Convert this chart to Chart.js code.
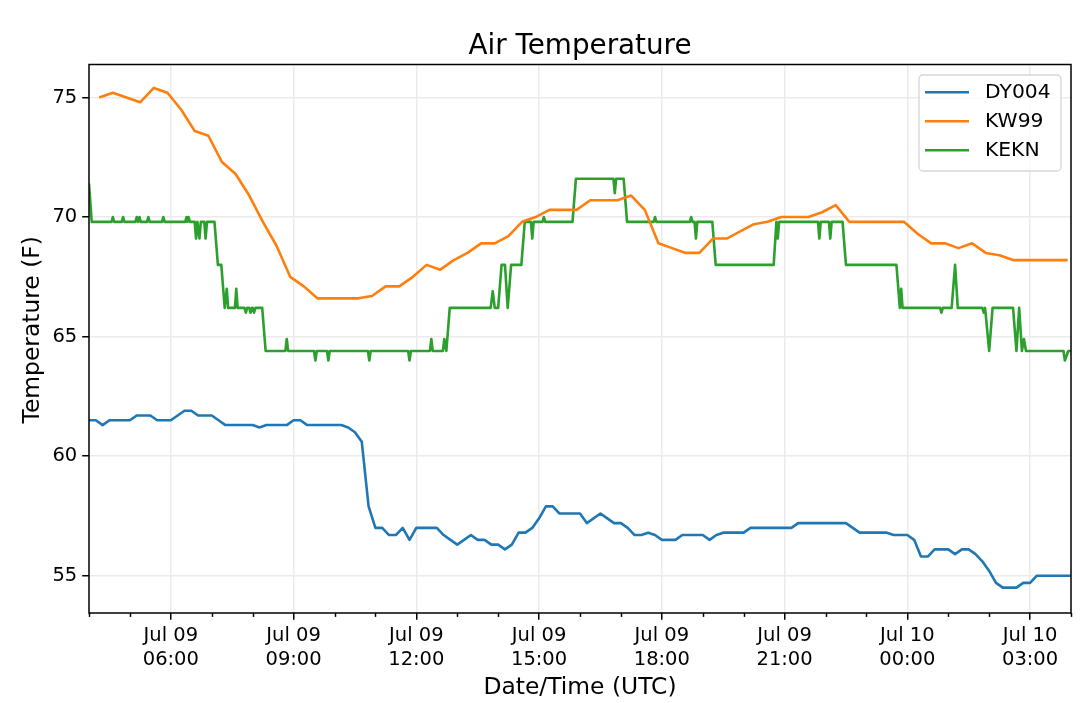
<!DOCTYPE html>
<html>
<head>
<meta charset="utf-8">
<title>Air Temperature</title>
<script src="https://cdn.jsdelivr.net/npm/chart.js@4/dist/chart.umd.min.js"></script>
<style>
  html, body { margin: 0; padding: 0; background: #fff; }
  canvas { display: block; }
</style>
</head>
<body>
<canvas id="tempChart" width="1080" height="703"></canvas>
<script>
// times are "HH:MM" counted from Jul 09 00:00 (24:10 = Jul 10 00:10)
const dy004Times = ['04:00', '04:10', '04:20', '04:30', '05:00', '05:10', '05:30', '05:40', '06:00', '06:10',
    '06:20', '06:30', '06:40', '07:00', '07:10', '07:20', '08:00', '08:10', '08:20', '08:50',
    '09:00', '09:10', '09:20', '10:10', '10:20', '10:30', '10:40', '10:50', '11:00', '11:10',
    '11:20', '11:30', '11:40', '11:50', '12:00', '12:30', '12:40', '12:50', '13:00', '13:10',
    '13:20', '13:30', '13:40', '13:50', '14:00', '14:10', '14:20', '14:30', '14:40', '14:50',
    '15:00', '15:10', '15:20', '15:30', '16:00', '16:10', '16:30', '16:40', '16:50', '17:00',
    '17:10', '17:20', '17:30', '17:40', '17:50', '18:00', '18:20', '18:30', '19:00', '19:10',
    '19:20', '19:30', '20:00', '20:10', '21:10', '21:20', '22:30', '22:40', '22:50', '23:30',
    '23:40', '24:00', '24:10', '24:20', '24:30', '24:40', '25:00', '25:10', '25:20', '25:30',
    '25:40', '25:50', '26:00', '26:10', '26:20', '26:40', '26:50', '27:00', '27:10', '28:00'];
const dy004Values = [61.5, 61.5, 61.3, 61.5, 61.5, 61.7, 61.7, 61.5, 61.5, 61.7,
    61.9, 61.9, 61.7, 61.7, 61.5, 61.3, 61.3, 61.2, 61.3, 61.3,
    61.5, 61.5, 61.3, 61.3, 61.2, 61.0, 60.6, 57.9, 57.0, 57.0,
    56.7, 56.7, 57.0, 56.5, 57.0, 57.0, 56.7, 56.5, 56.3, 56.5,
    56.7, 56.5, 56.5, 56.3, 56.3, 56.1, 56.3, 56.8, 56.8, 57.0,
    57.4, 57.9, 57.9, 57.6, 57.6, 57.2, 57.6, 57.4, 57.2, 57.2,
    57.0, 56.7, 56.7, 56.8, 56.7, 56.5, 56.5, 56.7, 56.7, 56.5,
    56.7, 56.8, 56.8, 57.0, 57.0, 57.2, 57.2, 57.0, 56.8, 56.8,
    56.7, 56.7, 56.5, 55.8, 55.8, 56.1, 56.1, 55.9, 56.1, 56.1,
    55.9, 55.6, 55.2, 54.7, 54.5, 54.5, 54.7, 54.7, 55.0, 55.0];

const kw99Times = ['04:15', '04:35', '04:55', '05:15', '05:35', '05:55', '06:15', '06:35', '06:55', '07:15', '07:35', '07:55',
    '08:15', '08:35', '08:55', '09:15', '09:35', '09:55', '10:15', '10:35', '10:55', '11:15', '11:35', '11:55',
    '12:15', '12:35', '12:55', '13:15', '13:35', '13:55', '14:15', '14:35', '14:55', '15:15', '15:35', '15:55',
    '16:15', '16:35', '16:55', '17:15', '17:35', '17:55', '18:15', '18:35', '18:55', '19:15', '19:35', '19:55',
    '20:15', '20:35', '20:55', '21:15', '21:35', '21:55', '22:15', '22:35', '22:55', '23:15', '23:35', '23:55',
    '24:15', '24:35', '24:55', '25:15', '25:35', '25:55', '26:15', '26:35', '26:55', '27:15', '27:35', '27:55'];
const kw99Values = [75.0, 75.2, 75.0, 74.8, 75.4, 75.2, 74.5, 73.6, 73.4, 72.3, 71.8, 70.9,
    69.8, 68.8, 67.5, 67.1, 66.6, 66.6, 66.6, 66.6, 66.7, 67.1, 67.1, 67.5,
    68.0, 67.8, 68.2, 68.5, 68.9, 68.9, 69.2, 69.8, 70.0, 70.3, 70.3, 70.3,
    70.7, 70.7, 70.7, 70.9, 70.3, 68.9, 68.7, 68.5, 68.5, 69.1, 69.1, 69.4,
    69.7, 69.8, 70.0, 70.0, 70.0, 70.2, 70.5, 69.8, 69.8, 69.8, 69.8, 69.8,
    69.3, 68.9, 68.9, 68.7, 68.9, 68.5, 68.4, 68.2, 68.2, 68.2, 68.2, 68.2];

const keknTimes = ['04:00', '04:04', '04:33', '04:35', '04:37', '04:48', '04:50', '04:52', '05:08', '05:10',
    '05:12', '05:14', '05:16', '05:25', '05:27', '05:29', '05:47', '05:49', '05:51', '06:21',
    '06:23', '06:24', '06:26', '06:28', '06:35', '06:37', '06:39', '06:42', '06:44', '06:49',
    '06:51', '06:53', '07:04', '07:09', '07:14', '07:19', '07:22', '07:24', '07:34', '07:36',
    '07:38', '07:48', '07:50', '07:52', '07:55', '07:57', '07:59', '08:00', '08:02', '08:04',
    '08:14', '08:19', '08:48', '08:50', '08:52', '09:30', '09:32', '09:34', '09:49', '09:51',
    '09:53', '10:49', '10:51', '10:53', '11:48', '11:50', '11:52', '12:20', '12:22', '12:24',
    '12:39', '12:41', '12:44', '12:49', '13:49', '13:52', '13:55', '14:00', '14:05', '14:10',
    '14:14', '14:19', '14:34', '14:39', '14:48', '14:50', '14:52', '15:05', '15:07', '15:09',
    '15:49', '15:54', '16:49', '16:51', '16:53', '17:04', '17:09', '17:48', '17:50', '17:52',
    '18:41', '18:43', '18:45', '18:48', '18:50', '18:52', '19:14', '19:19', '20:44', '20:48',
    '20:50', '20:52', '21:49', '21:51', '21:53', '22:05', '22:07', '22:09', '22:25', '22:30',
    '23:44', '23:49', '23:51', '23:53', '24:48', '24:50', '24:52', '25:05', '25:10', '25:14',
    '25:50', '25:52', '25:54', '26:00', '26:05', '26:35', '26:40', '26:44', '26:48', '26:51',
    '26:54', '27:49', '27:51', '27:56', '28:00'];
const keknValues = [71.4, 69.8, 69.8, 70.0, 69.8, 69.8, 70.0, 69.8, 69.8, 70.0,
    69.8, 70.0, 69.8, 69.8, 70.0, 69.8, 69.8, 70.0, 69.8, 69.8,
    70.0, 69.8, 70.0, 69.8, 69.8, 69.1, 69.8, 69.1, 69.8, 69.8,
    69.1, 69.8, 69.8, 68.0, 68.0, 66.2, 67.0, 66.2, 66.2, 67.0,
    66.2, 66.2, 66.0, 66.2, 66.2, 66.0, 66.2, 66.2, 66.0, 66.2,
    66.2, 64.4, 64.4, 64.9, 64.4, 64.4, 64.0, 64.4, 64.4, 64.0,
    64.4, 64.4, 64.0, 64.4, 64.4, 64.0, 64.4, 64.4, 64.9, 64.4,
    64.4, 64.9, 64.4, 66.2, 66.2, 66.9, 66.2, 66.2, 68.0, 68.0,
    66.2, 68.0, 68.0, 69.8, 69.8, 69.1, 69.8, 69.8, 70.0, 69.8,
    69.8, 71.6, 71.6, 71.0, 71.6, 71.6, 69.8, 69.8, 70.0, 69.8,
    69.8, 70.0, 69.8, 69.8, 69.1, 69.8, 69.8, 68.0, 68.0, 69.8,
    69.1, 69.8, 69.8, 69.1, 69.8, 69.8, 69.1, 69.8, 69.8, 68.0,
    68.0, 66.2, 67.0, 66.2, 66.2, 66.0, 66.2, 66.2, 68.0, 66.2,
    66.2, 66.0, 66.2, 64.4, 66.2, 66.2, 64.4, 66.2, 64.4, 64.9,
    64.4, 64.4, 64.0, 64.4, 64.4];

// axis ticks
const xTickHours = [6, 9, 12, 15, 18, 21, 24, 27];
const xTickLabels = [['Jul 09', '06:00'], ['Jul 09', '09:00'], ['Jul 09', '12:00'], ['Jul 09', '15:00'],
    ['Jul 09', '18:00'], ['Jul 09', '21:00'], ['Jul 10', '00:00'], ['Jul 10', '03:00']];
const yTicks = [55, 60, 65, 70, 75];

const GRID = '#ebebeb';
const FONT = "'DejaVu Sans', sans-serif";
Chart.defaults.font.family = FONT;
Chart.defaults.color = '#000';

function toHours(s) {
    const [h, m] = s.split(':').map(Number);
    return h + m / 60;
}
function points(times, values) {
    return times.map((t, i) => ({ x: toHours(t), y: values[i] }));
}
const isMajor = v => xTickHours.includes(v);

// title and y label centred like matplotlib, frame, minor ticks, boxed legend
const framePlugin = {
    id: 'framePlugin',
    afterDatasetsDraw(chart) {
        const { ctx, chartArea: a } = chart;
        const x = chart.scales.x;
        ctx.save();
        ctx.strokeStyle = '#000';
        ctx.lineWidth = 1.5;
        x.ticks.forEach(t => {
            if (isMajor(t.value)) return;
            const px = Math.round(x.getPixelForValue(t.value)) + 0.5;
            ctx.beginPath();
            ctx.moveTo(px, a.bottom);
            ctx.lineTo(px, a.bottom + 3.9);
            ctx.stroke();
        });
        ctx.strokeRect(a.left, a.top, a.right - a.left, a.bottom - a.top);

        ctx.fillStyle = '#000';
        ctx.textAlign = 'center';
        ctx.textBaseline = 'middle';
        ctx.font = '27.8px ' + FONT;
        ctx.fillText('Air Temperature', (a.left + a.right) / 2, a.top - 18);

        ctx.save();
        ctx.translate(33, (a.top + a.bottom) / 2 - 9);
        ctx.rotate(-Math.PI / 2);
        ctx.font = '23.4px ' + FONT;
        ctx.fillText('Temperature (F)', 0, 0);
        ctx.restore();

        // legend
        const w = 142, h = 96;
        const bx = a.right - 10 - w, by = a.top + 10.5;
        ctx.beginPath();
        ctx.roundRect(bx, by, w, h, 4);
        ctx.fillStyle = 'rgba(255,255,255,0.8)';
        ctx.fill();
        ctx.strokeStyle = '#d6d6d6';
        ctx.lineWidth = 1.3;
        ctx.stroke();
        ctx.font = '20.3px ' + FONT;
        ctx.textAlign = 'left';
        chart.data.datasets.forEach((ds, i) => {
            const ry = by + 17.3 + i * 29;
            ctx.strokeStyle = ds.borderColor;
            ctx.lineWidth = 2.6;
            ctx.beginPath();
            ctx.moveTo(bx + 6, ry);
            ctx.lineTo(bx + 50, ry);
            ctx.stroke();
            ctx.fillStyle = '#000';
            ctx.fillText(ds.label, bx + 66, ry);
        });
        ctx.restore();
    }
};

const tempChart = new Chart(document.getElementById('tempChart'), {
    type: 'line',
    data: {
        datasets: [
            { label: 'DY004', data: points(dy004Times, dy004Values), borderColor: '#1f77b4' },
            { label: 'KW99', data: points(kw99Times, kw99Values), borderColor: '#ff7f0e' },
            { label: 'KEKN', data: points(keknTimes, keknValues), borderColor: '#2ca02c' }
        ]
    },
    options: {
        responsive: false,
        animation: false,
        layout: { padding: { left: 0, right: 9, top: 64.5, bottom: 0 } },
        elements: {
            line: { borderWidth: 2.6, tension: 0, borderJoinStyle: 'round', fill: false },
            point: { radius: 0, hoverRadius: 0 }
        },
        plugins: {
            legend: { display: false },
            tooltip: { enabled: false },
            title: { display: false }
        },
        scales: {
            x: {
                type: 'linear',
                min: 4,
                max: 28,
                afterBuildTicks: scale => {
                    const ticks = [];
                    for (let v = scale.min; v <= scale.max; v++) ticks.push({ value: v });
                    scale.ticks = ticks;
                },
                afterFit: scale => { scale.height = 90; },
                border: { display: false },
                grid: {
                    color: c => isMajor(c.tick.value) ? GRID : 'transparent',
                    lineWidth: 1.5,
                    tickLength: 6.8,
                    tickWidth: 1.5,
                    tickColor: c => isMajor(c.tick.value) ? '#000' : 'transparent'
                },
                ticks: {
                    autoSkip: false,
                    maxRotation: 0,
                    padding: 3.85,
                    font: { size: 19.5, lineHeight: 1.246 },
                    callback: v => {
                        const i = xTickHours.indexOf(v);
                        return i < 0 ? '' : xTickLabels[i];
                    }
                },
                title: {
                    display: true,
                    text: 'Date/Time (UTC)',
                    font: { size: 23.4, lineHeight: 1.2 },
                    padding: { top: 0, bottom: 0.7 }
                }
            },
            y: {
                min: 53.44,
                max: 76.38,
                afterBuildTicks: scale => { scale.ticks = yTicks.map(v => ({ value: v })); },
                afterFit: scale => { scale.width = 89; },
                border: { display: false },
                grid: {
                    color: GRID,
                    lineWidth: 1.5,
                    tickLength: 6.8,
                    tickWidth: 1.5,
                    tickColor: '#000'
                },
                ticks: {
                    padding: 5,
                    font: { size: 19.5 },
                    callback: v => String(v)
                },
                title: { display: false }
            }
        }
    },
    plugins: [framePlugin]
});
</script>
</body>
</html>
